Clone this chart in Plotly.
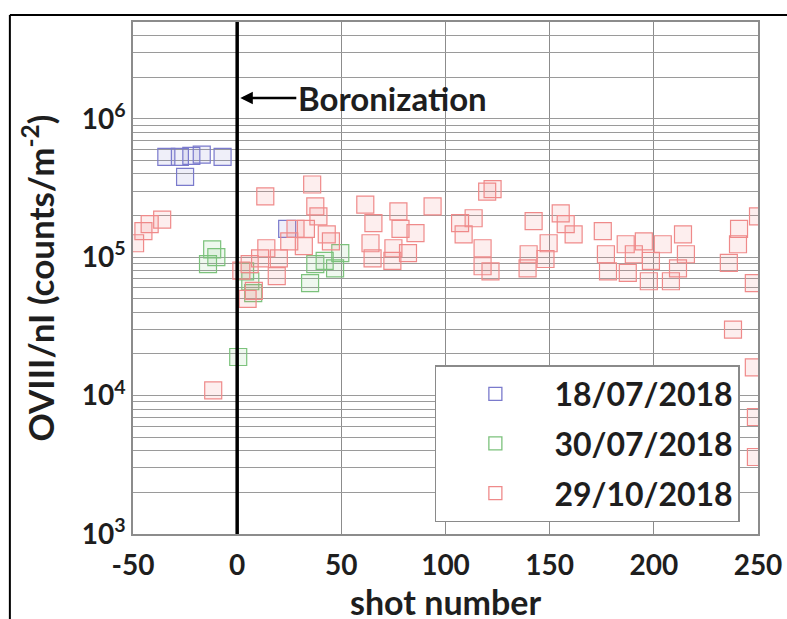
import plotly.graph_objects as go
import numpy as np

# ---- data ----
blue_x = [-34, -27.5, -22, -17, -7, -25, 24]
blue_y = [5.3e5, 5.3e5, 5.4e5, 5.5e5, 5.3e5, 3.8e5, 1.6e5]

green_x = [-12, -14, -10, 0.5, 3.8, 6.3, 7.7, 35, 37.5, 42, 47, 49.5]
green_y = [1.14e5, 8.9e4, 1.0e5, 1.9e4, 7.9e4, 6.7e4, 5.5e4, 6.5e4, 8.9e4, 9.4e4, 8.3e4, 1.07e5]

red_x = [-49, -45, -42, -36, -11.5,
         2, 5, 8, 6, 11, 14, 19, 20, 13.5, 25, 28, 32, 33, 36, 37.5, 39, 43, 45,
         61.5, 64, 65, 65.4, 74.5, 75, 77.4, 78.4, 82, 85.6, 93.8, 107, 108.7, 113.5,
         117.8, 117.8, 120, 122.6, 121.6,
         139.4, 139.9, 142.3, 148, 149.5, 155.3, 157.7, 161.5, 175.5, 177, 178,
         186.5, 187.5, 190.4, 195.2, 197.6, 198.6, 204.3, 208.2, 211.6, 214, 215.4,
         236, 238, 240.4, 240.9, 248, 248, 249, 249, 250]
red_y = [1.26e5, 1.54e5, 1.73e5, 1.87e5, 1.09e4,
         8.0e4, 5.0e4, 5.7e4, 8.9e4, 9.8e4, 1.16e5, 7.3e4, 9.8e4, 2.75e5, 1.3e5, 1.6e5, 1.2e5, 1.6e5, 3.35e5, 2.33e5, 1.97e5, 1.46e5, 1.3e5,
         2.4e5, 1.26e5, 9.8e4, 1.76e5, 9.4e4, 1.16e5, 2.14e5, 1.6e5, 1.07e5, 1.49e5, 2.33e5, 1.76e5, 1.46e5, 1.91e5,
         1.16e5, 8.6e4, 2.98e5, 3.1e5, 7.9e4,
         8.3e4, 1.05e5, 1.82e5, 9.7e4, 1.26e5, 2.07e5, 1.73e5, 1.46e5, 1.54e5, 1.05e5, 7.9e4,
         1.24e5, 7.7e4, 1.05e5, 1.3e5, 6.7e4, 9.4e4, 1.24e5, 6.7e4, 8.3e4, 1.46e5, 1.05e5,
         9.1e4, 3.0e4, 1.24e5, 1.6e5, 6.5e4, 1.6e4, 7.0e3, 3.6e3, 1.97e5]

series_names = ["18/07/2018", "30/07/2018", "29/10/2018"]
series_colors = ["#7a7acc", "#7cc27c", "#ef8a8a"]
series_fills = ["rgba(122,122,204,0.12)", "rgba(124,194,124,0.12)", "rgba(239,138,138,0.14)"]

x_ticks = [-50, 0, 50, 100, 150, 200, 250]

FONT = "Lato"
TXT = "#1e1e1e"

fig = go.Figure()
for xs, ys, name, col, fill in zip([blue_x, green_x, red_x], [blue_y, green_y, red_y],
                                   series_names, series_colors, series_fills):
    fig.add_trace(go.Scatter(
        x=xs, y=ys, mode="markers", name=name, showlegend=False,
        marker=dict(symbol="square", size=17, color=fill,
                    line=dict(color=col, width=1.2))))
# legend-only entries (smaller symbols like the reference legend)
for i, (name, col) in enumerate(zip(series_names, series_colors)):
    fig.add_trace(go.Scatter(
        x=[None], y=[None], mode="markers", name=name, legendgroup=f"g{i}",
        marker=dict(symbol="square-open", size=13, color=col, line=dict(width=1.3))))

# y grid: all minor + major values
yvals, ytext = [], []
for d in range(3, 7):
    for m in range(1, 10):
        v = m * 10 ** d
        if v > 5e6:
            break
        yvals.append(v)
        ytext.append(f"10<sup>{d}</sup>" if m == 1 else "")

fig.update_layout(
    width=787, height=619,
    margin=dict(l=133, r=29, t=22, b=85),
    paper_bgcolor="white", plot_bgcolor="white",
    font=dict(family=FONT, color=TXT, size=28),
    showlegend=True,
    legend=dict(x=0.483, y=0.33, xanchor="left", yanchor="top",
                bgcolor="white", bordercolor="#8a8a8a", borderwidth=1.5,
                font=dict(family=FONT, size=32, color=TXT, weight="bold"),
                traceorder="grouped", tracegroupgap=5, itemwidth=108),
    xaxis=dict(range=[-50, 250], tickvals=x_ticks, ticktext=[str(v) for v in x_ticks],
               showgrid=True, gridcolor="#8c8c8c", gridwidth=1,
               showline=True, mirror=True, linecolor="#8c8c8c", linewidth=1.5,
               ticks="", zeroline=False, ticklabelstandoff=6, automargin=False,
               tickfont=dict(family=FONT, size=28, color=TXT, weight="bold")),
    yaxis=dict(type="log", range=[3, np.log10(5e6)], tickvals=yvals, ticktext=ytext,
               showgrid=True, gridcolor="#9a9a9a", gridwidth=1,
               showline=True, mirror=True, linecolor="#8c8c8c", linewidth=1.5,
               ticks="", zeroline=False, automargin=False,
               tickfont=dict(family=FONT, size=28, color=TXT, weight="bold"),
               title=dict(text="OVIII/nI (counts/m<sup>-2</sup>)", standoff=17,
                          font=dict(family=FONT, size=35, color=TXT, weight="bold"))),
)

# x-axis title
fig.add_annotation(x=0.5, y=-0.131, xref="paper", yref="paper", xanchor="center", yanchor="middle",
                   text="<b>shot number</b>", showarrow=False,
                   font=dict(family=FONT, size=34, color=TXT))

# boronization line
fig.add_shape(type="line", xref="x", yref="paper", x0=0, x1=0, y0=0, y1=1,
              line=dict(color="black", width=3.5), layer="above")
fig.add_annotation(x=1.5, y=6.15, xref="x", yref="y", text="<b>Boronization</b>",
                   showarrow=True, ax=152, ay=0, arrowhead=2, arrowsize=1, arrowwidth=2.5,
                   arrowcolor="black", font=dict(family=FONT, size=33, color=TXT))

# outer frame (figure border partially visible)
fig.add_shape(type="line", xref="paper", yref="paper", x0=-0.197, x1=1.1, y0=1.0137, y1=1.0137,
              line=dict(color="black", width=2))
fig.add_shape(type="line", xref="paper", yref="paper", x0=-0.197, x1=-0.197, y0=1.0137, y1=-0.2,
              line=dict(color="black", width=2))

fig.write_html("out.html")
